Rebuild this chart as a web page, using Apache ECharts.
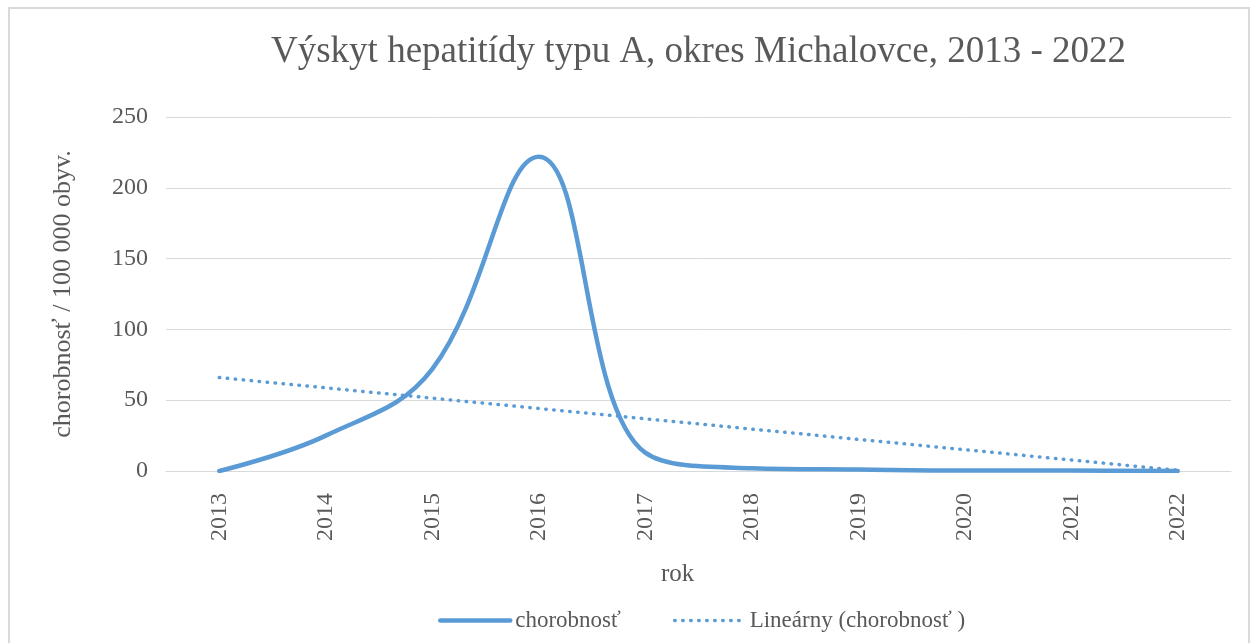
<!DOCTYPE html>
<html>
<head>
<meta charset="utf-8">
<script src="https://cdn.jsdelivr.net/npm/echarts@6/dist/echarts.min.js"></script>
<style>
  html, body { margin: 0; padding: 0; background: #fff; }
  #chart { width: 1251px; height: 643px; }
</style>
</head>
<body>
<div id="chart"></div>
<script>
// roky a chorobnosť na 100 000 obyv. (odčítané z grafu)
const years = ['2013', '2014', '2015', '2016', '2017', '2018', '2019', '2020', '2021', '2022'];
const incidence = [0, 25, 72, 222, 13, 2, 1, 0.3, 0.3, 0];
// lineárny trend - len koncové body
const trend = [66, null, null, null, null, null, null, null, null, 0.5];

const serif = '"Liberation Serif", "Times New Roman", serif';
const grey = '#595959';
const blue = '#5B9BD5';

const chart = echarts.init(document.getElementById('chart'));

chart.setOption({
  backgroundColor: '#fff',
  animation: false,
  title: [
    {
      text: 'Výskyt hepatitídy typu A, okres Michalovce, 2013 - 2022',
      left: 266,
      top: 29,
      textStyle: { fontFamily: serif, fontSize: 37, fontWeight: 'normal', color: grey }
    },
    {
      text: 'rok',
      left: 656,
      top: 557,
      textStyle: { fontFamily: serif, fontSize: 25, fontWeight: 'normal', color: grey }
    }
  ],
  graphic: [
    {
      type: 'rect',
      shape: { x: 9, y: 8, width: 1240, height: 640 },
      style: { fill: 'none', stroke: '#d9d9d9', lineWidth: 2 },
      silent: true
    }
  ],
  grid: { left: 166, right: 20, top: 117, bottom: 172 },
  legend: {
    left: 433,
    top: 604,
    itemWidth: 70,
    itemHeight: 14,
    itemGap: 52,
    itemStyle: { opacity: 0 },
    lineStyle: { width: 'inherit' },
    textStyle: { fontFamily: serif, fontSize: 23, color: grey },
    data: ['chorobnosť', 'Lineárny (chorobnosť )']
  },
  xAxis: {
    type: 'category',
    data: years,
    boundaryGap: true,
    axisLine: { lineStyle: { color: '#d9d9d9', width: 1 } },
    axisTick: { show: false },
    axisLabel: {
      rotate: 90,
      margin: 22,
      fontFamily: serif,
      fontSize: 24,
      color: grey
    }
  },
  yAxis: {
    type: 'value',
    min: 0,
    max: 250,
    interval: 50,
    name: 'chorobnosť / 100 000 obyv.',
    nameLocation: 'middle',
    nameGap: 90,
    nameTextStyle: { fontFamily: serif, fontSize: 26, color: grey },
    axisLine: { show: false },
    axisTick: { show: false },
    axisLabel: { margin: 18, fontFamily: serif, fontSize: 24, color: grey },
    splitLine: { lineStyle: { color: '#d9d9d9', width: 1 } }
  },
  series: [
    {
      name: 'chorobnosť',
      type: 'line',
      data: incidence,
      smooth: 0.4,
      symbol: 'none',
      lineStyle: { color: blue, width: 4.5, cap: 'round' },
      itemStyle: { color: blue },
      z: 3
    },
    {
      name: 'Lineárny (chorobnosť )',
      type: 'line',
      data: trend,
      connectNulls: true,
      symbol: 'none',
      lineStyle: { color: blue, width: 3.5, type: [0.5, 7.5], cap: 'round' },
      itemStyle: { color: blue },
      z: 2
    }
  ]
});
</script>
</body>
</html>
